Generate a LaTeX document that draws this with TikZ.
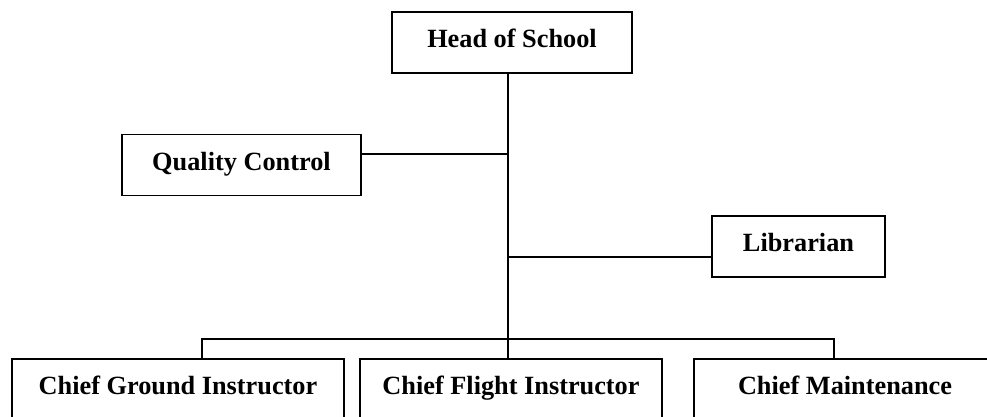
\documentclass[tikz,border=0pt]{standalone}
\usepackage{fontspec}
\setmainfont{Liberation Serif}
\usepackage{tikz}
\usetikzlibrary{positioning}

\tikzset{
  orgbox/.style={draw,line width=1.8pt,minimum height=61pt,inner sep=0pt,
    font=\fontsize{26.3}{30}\selectfont\bfseries,text depth=8pt},
  orgline/.style={line width=1.8pt}
}

\begin{document}
\begin{tikzpicture}[x=1pt,y=1pt]
  \useasboundingbox (0,0) rectangle (987,416);
  \node[orgbox,minimum width=240pt] (head) at (512,373.5) {Head of School};
  \node[orgbox,minimum width=239pt] (qc)   at (241.5,251) {Quality Control};
  \node[orgbox,minimum width=173pt] (lib)  at (798.5,169.5) {Librarian};
  \node[orgbox,minimum width=332pt,minimum height=60pt] (cgi) at (178,27) {Chief Ground Instructor};
  \node[orgbox,minimum width=302pt,minimum height=60pt] (cfi) at (511,27) {Chief Flight Instructor};
  \node[orgbox,minimum width=302pt,minimum height=60pt] (cm)  at (845,27) {Chief Maintenance};
  \coordinate (spine) at (508,0);
  \coordinate (busL) at (202,77);
  \coordinate (busR) at (834,77);
  \draw[orgline] ([yshift=11pt]qc.east) -- ([yshift=11pt]qc.east -| spine);
  \draw[orgline] ([yshift=-10.5pt]lib.west -| spine) -- ([yshift=-10.5pt]lib.west);
  \draw[orgline] (head.south -| spine) -- (cfi.north -| spine);
  \draw[orgline] (busL |- cgi.north) -- (busL) -- (busR) -- (busR |- cm.north);
\end{tikzpicture}
\end{document}
